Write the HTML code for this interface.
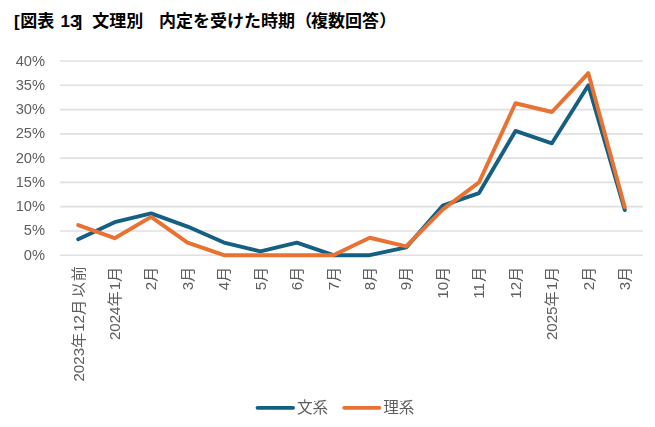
<!DOCTYPE html>
<html lang="ja">
<head>
<meta charset="utf-8">
<title>[図表 13] 文理別　内定を受けた時期（複数回答）</title>
<style>
html,body{margin:0;padding:0;background:#fff}
body{width:655px;height:427px;overflow:hidden;position:relative;font-family:"Liberation Sans","Noto Sans CJK JP",sans-serif}
svg{position:absolute;left:0;top:0;display:block}
.tt{fill:#000}
.tt text{fill:#000;font-size:17px;font-weight:bold}
.grid line{stroke:#e0e0e0;stroke-width:1.6px}
text{font-family:"Liberation Sans","Noto Sans CJK JP",sans-serif;font-size:14.67px;fill:#5e5e5e}
.yl text{text-anchor:end}
.lg text{font-size:15.6px}
.ln{fill:none;stroke-width:3.9px;stroke-linejoin:round;stroke-linecap:round}
.lgl{stroke-width:3.8px}
.chart{filter:blur(0.45px)}
.b{stroke:#156082}
.o{stroke:#e97132}
</style>
</head>
<body>
<svg width="655" height="427" viewBox="0 0 655 427" role="img" aria-label="[図表 13] 文理別　内定を受けた時期（複数回答） 折れ線グラフ：文系・理系">
<g aria-label="[図表 13] 文理別　内定を受けた時期（複数回答）"><g class="tt"><text y="26.85"><tspan x="14">[</tspan><tspan x="20.35">図表</tspan><tspan x="60.5">13</tspan><tspan x="76.5">]</tspan><tspan x="92.25">文理別</tspan><tspan x="159.12">内定を受けた時期</tspan><tspan x="295.22">（</tspan><tspan x="311">複数回答</tspan><tspan x="379.22">）</tspan></text></g></g>
<g class="chart">
<g class="grid"><line x1="60" x2="643" y1="255.2" y2="255.2"/><line x1="60" x2="643" y1="230.93" y2="230.93"/><line x1="60" x2="643" y1="206.66" y2="206.66"/><line x1="60" x2="643" y1="182.39" y2="182.39"/><line x1="60" x2="643" y1="158.12" y2="158.12"/><line x1="60" x2="643" y1="133.85" y2="133.85"/><line x1="60" x2="643" y1="109.58" y2="109.58"/><line x1="60" x2="643" y1="85.31" y2="85.31"/><line x1="60" x2="643" y1="61.04" y2="61.04"/></g>
<g class="yl"><text transform="translate(45,259.7) scale(1,1.03)">0%</text><text transform="translate(45,235.43) scale(1,1.03)">5%</text><text transform="translate(45,211.16) scale(1,1.03)">10%</text><text transform="translate(45,186.89) scale(1,1.03)">15%</text><text transform="translate(45,162.62) scale(1,1.03)">20%</text><text transform="translate(45,138.35) scale(1,1.03)">25%</text><text transform="translate(45,114.08) scale(1,1.03)">30%</text><text transform="translate(45,89.81) scale(1,1.03)">35%</text><text transform="translate(45,65.54) scale(1,1.03)">40%</text></g>
<polyline class="ln b" points="78.22,239.18 114.66,222.19 151.09,213.46 187.53,226.56 223.97,242.58 260.41,251.32 296.84,242.58 333.28,255.2 369.72,255.2 406.16,247.43 442.59,205.69 479.03,193.07 515.47,130.94 551.91,143.32 588.34,85.31 624.78,210.06"/>
<polyline class="ln o" points="78.22,225.11 114.66,238.21 151.09,216.85 187.53,242.58 223.97,255.2 260.41,255.2 296.84,255.2 333.28,255.2 369.72,237.73 406.16,246.46 442.59,209.57 479.03,182.39 515.47,103.27 551.91,112.01 588.34,73.17 624.78,207.15"/>
<g class="xl"><g transform="translate(83.52,381.53) rotate(-90) scale(1.03,1)"><text x="0" y="0">2023</text><text x="32.64" y="0">年</text><text x="48.29" y="0">12</text><text x="64.61" y="0">月</text><text x="81.83" y="0">以</text><text x="97.48" y="0">前</text></g><g transform="translate(119.96,340.06) rotate(-90) scale(1.03,1)"><text x="0" y="0">2024</text><text x="32.64" y="0">年</text><text x="48.29" y="0">1</text><text x="56.45" y="0">月</text></g><g transform="translate(156.39,290.32) rotate(-90) scale(1.03,1)"><text x="0" y="0">2</text><text x="8.16" y="0">月</text></g><g transform="translate(192.83,290.32) rotate(-90) scale(1.03,1)"><text x="0" y="0">3</text><text x="8.16" y="0">月</text></g><g transform="translate(229.27,290.32) rotate(-90) scale(1.03,1)"><text x="0" y="0">4</text><text x="8.16" y="0">月</text></g><g transform="translate(265.71,290.32) rotate(-90) scale(1.03,1)"><text x="0" y="0">5</text><text x="8.16" y="0">月</text></g><g transform="translate(302.14,290.32) rotate(-90) scale(1.03,1)"><text x="0" y="0">6</text><text x="8.16" y="0">月</text></g><g transform="translate(338.58,290.32) rotate(-90) scale(1.03,1)"><text x="0" y="0">7</text><text x="8.16" y="0">月</text></g><g transform="translate(375.02,290.32) rotate(-90) scale(1.03,1)"><text x="0" y="0">8</text><text x="8.16" y="0">月</text></g><g transform="translate(411.46,290.32) rotate(-90) scale(1.03,1)"><text x="0" y="0">9</text><text x="8.16" y="0">月</text></g><g transform="translate(447.89,298.72) rotate(-90) scale(1.03,1)"><text x="0" y="0">10</text><text x="16.32" y="0">月</text></g><g transform="translate(484.33,298.72) rotate(-90) scale(1.03,1)"><text x="0" y="0">11</text><text x="16.32" y="0">月</text></g><g transform="translate(520.77,298.72) rotate(-90) scale(1.03,1)"><text x="0" y="0">12</text><text x="16.32" y="0">月</text></g><g transform="translate(557.21,340.06) rotate(-90) scale(1.03,1)"><text x="0" y="0">2025</text><text x="32.64" y="0">年</text><text x="48.29" y="0">1</text><text x="56.45" y="0">月</text></g><g transform="translate(593.64,290.32) rotate(-90) scale(1.03,1)"><text x="0" y="0">2</text><text x="8.16" y="0">月</text></g><g transform="translate(630.08,290.32) rotate(-90) scale(1.03,1)"><text x="0" y="0">3</text><text x="8.16" y="0">月</text></g></g>
<line class="ln lgl b" x1="257.5" x2="293.1" y1="407.8" y2="407.8"/><line class="ln lgl o" x1="344.2" x2="379.4" y1="407.8" y2="407.8"/><g class="lg"><text x="297" y="413.1">文系</text><text x="383.25" y="413.1">理系</text></g>
</g>
</svg>
</body>
</html>
